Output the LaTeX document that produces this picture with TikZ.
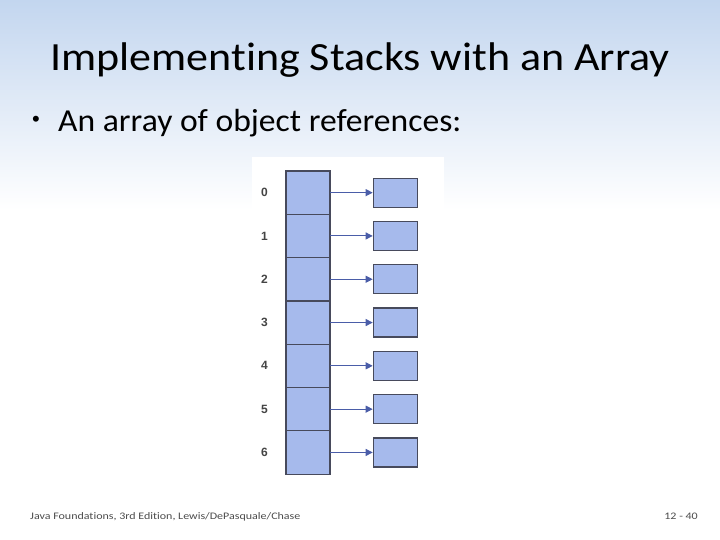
\documentclass[tikz,border=0pt]{standalone}
\usepackage{fontspec}
\setmainfont[Ligatures=NoCommon]{Carlito}
\setsansfont{Liberation Sans}
\usetikzlibrary{arrows.meta}
\definecolor{topblue}{HTML}{C3D6EF}
\definecolor{cellfill}{HTML}{A6BAEC}
\definecolor{cellline}{HTML}{474A5C}
\definecolor{arrowc}{HTML}{4A5DA8}
\definecolor{labelc}{HTML}{444444}
\tikzset{
  cell/.style={draw=cellline, fill=cellfill, line width=1.2pt, minimum width=44pt, minimum height=43.3pt, inner sep=0pt, outer sep=0pt},
  obj/.style={draw=cellline, fill=cellfill, line width=1.2pt, minimum width=44pt, minimum height=29pt, inner sep=0pt},
  idx/.style={font=\sffamily\bfseries\fontsize{12}{12}\selectfont, text=labelc, inner sep=0pt},
  ref/.style={draw=arrowc, line width=1pt, -{Triangle[length=7pt,width=7pt]}},
  foottext/.style={inner sep=0pt, font=\fontsize{10}{10}\selectfont, text=black!70},
}
\begin{document}
\begin{tikzpicture}[x=1pt,y=-1pt]
\useasboundingbox (0,0) rectangle (720,540);
\fill[white] (0,0) rectangle (720,540);
\shade[top color=topblue, bottom color=white] (0,0) rectangle (720,210);
\fill[white] (252,157) rectangle (444,478);
\node[anchor=base, inner sep=0pt, font=\fontsize{40}{40}\selectfont] (title) at (360,71) {\scalebox{1.1}[1]{Implementing Stacks with an Array}};
\node[inner sep=0pt, font=\sffamily\fontsize{22}{22}\selectfont] (dot) at (36,121) {\textbullet};
\node[anchor=base west, inner sep=0pt, font=\fontsize{32}{32}\selectfont] (bullet) at (58,132) {\scalebox{1.05}[1]{An array of object references:}};
\foreach \i in {0,...,6} {
  \node[cell] (c\i) at (308,{192.65+43.3*\i}) {};
  \node[obj] (o\i) at (395.3,{192.65+43.3*\i}) {};
  \node[idx] (l\i) at (264.5,{192.65+43.3*\i}) {\i};
  \draw[ref] (c\i.east) -- (o\i.west);
}
\node[anchor=base west, foottext] (foot) at (30,519) {\scalebox{1.2}[1]{Java Foundations, 3rd Edition, Lewis/DePasquale/Chase}};
\node[anchor=base east, foottext] (page) at (698,519) {\scalebox{1.2}[1]{12 - 40}};
\end{tikzpicture}
\end{document}
